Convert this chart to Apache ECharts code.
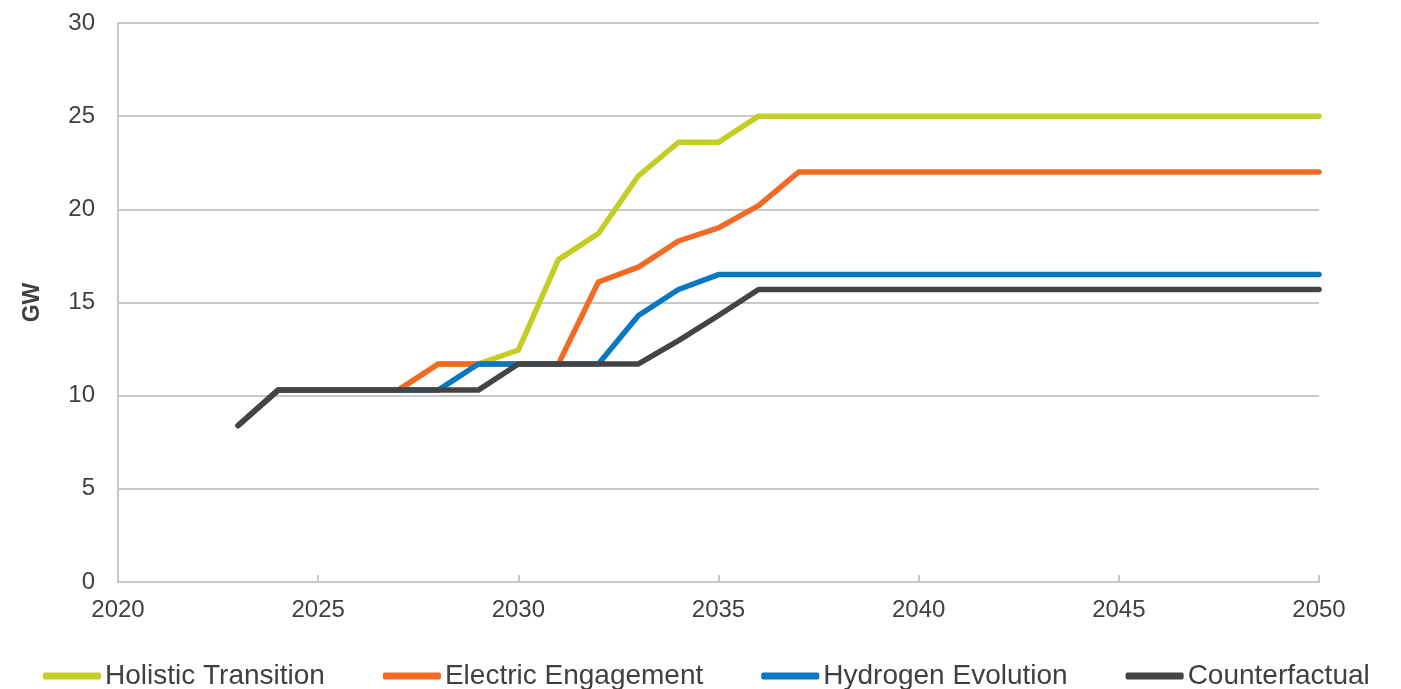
<!DOCTYPE html>
<html><head><meta charset="utf-8">
<script src="https://cdn.jsdelivr.net/npm/echarts@6/dist/echarts.min.js"></script>
<style>html,body{margin:0;padding:0;background:#fff}#c{width:1401px;height:689px}</style>
</head><body><div id="c"></div>
<script>
const years = [2023,2024,2025,2026,2027,2028,2029,2030,2031,2032,2033,2034,2035,2036,2037,2038,2039,2040,2041,2042,2043,2044,2045,2046,2047,2048,2049,2050];
const holistic =       [8.4,10.3,10.3,10.3,10.3,11.7,11.7,12.45,17.3,18.7,21.8,23.6,23.6,25.0,25.0,25.0,25.0,25.0,25.0,25.0,25.0,25.0,25.0,25.0,25.0,25.0,25.0,25.0];
const electric =       [8.4,10.3,10.3,10.3,10.3,11.7,11.7,11.7,11.7,16.1,16.9,18.3,19.0,20.2,22.0,22.0,22.0,22.0,22.0,22.0,22.0,22.0,22.0,22.0,22.0,22.0,22.0,22.0];
const hydrogen =       [8.4,10.3,10.3,10.3,10.3,10.3,11.7,11.7,11.7,11.7,14.3,15.7,16.5,16.5,16.5,16.5,16.5,16.5,16.5,16.5,16.5,16.5,16.5,16.5,16.5,16.5,16.5,16.5];
const counterfactual = [8.4,10.3,10.3,10.3,10.3,10.3,10.3,11.7,11.7,11.7,11.7,12.95,14.3,15.7,15.7,15.7,15.7,15.7,15.7,15.7,15.7,15.7,15.7,15.7,15.7,15.7,15.7,15.7];
const seriesNames = ['Holistic Transition','Electric Engagement','Hydrogen Evolution','Counterfactual'];
const seriesData = [holistic, electric, hydrogen, counterfactual];
const colors = ['#c3cd22','#f26a25','#0a78c0','#444444'];

const chart = echarts.init(document.getElementById('c'));
const font = 'Liberation Sans, Arial, sans-serif';
chart.setOption({
  animation: false,
  color: colors,
  grid: {left: 118, right: 82, top: 23, bottom: 107, containLabel: false},
  legend: {
    bottom: -6, left: 38,
    itemWidth: 58, itemHeight: 7, itemGap: 58,
    icon: 'roundRect',
    textStyle: {fontFamily: font, fontSize: 28, color: '#404040', padding: [0,0,0,-1]},
    data: seriesNames
  },
  xAxis: {
    type: 'value', min: 2020, max: 2050, interval: 5,
    axisLine: {show: true, lineStyle: {color: '#c8c8c8', width: 2}},
    axisTick: {show: true, inside: true, length: 7, lineStyle: {color: '#c8c8c8', width: 2}},
    axisLabel: {fontFamily: font, fontSize: 24, color: '#404040', margin: 16, formatter: v => String(v)},
    splitLine: {show: false}
  },
  yAxis: {
    type: 'value', min: 0, max: 30, interval: 5,
    name: 'GW', nameLocation: 'middle', nameGap: 74, nameRotate: 90,
    nameTextStyle: {fontFamily: font, fontSize: 23, fontWeight: 'bold', color: '#404040'},
    axisLine: {show: true, lineStyle: {color: '#c8c8c8', width: 2}},
    axisTick: {show: false},
    axisLabel: {fontFamily: font, fontSize: 24, color: '#404040', margin: 23},
    splitLine: {lineStyle: {color: '#c8c8c8', width: 2}}
  },
  series: seriesNames.map((n, i) => ({
    name: n, type: 'line', showSymbol: false, symbol: 'none',
    lineStyle: {width: 5.5, color: colors[i], cap: 'round', join: 'round'},
    data: years.map((y, j) => [y, seriesData[i][j]])
  }))
});
</script></body></html>
